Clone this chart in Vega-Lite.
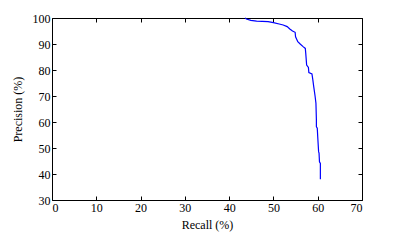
{
  "$schema": "https://vega.github.io/schema/vega-lite/v6.json",
  "width": 310,
  "height": 182,
  "autosize": {"type": "none"},
  "padding": {"left": 52, "top": 18, "right": 39, "bottom": 41},
  "background": "white",
  "config": {
    "view": {"stroke": "black", "strokeWidth": 1},
    "axis": {
      "labelFont": "Liberation Serif",
      "labelFontSize": 12,
      "labelColor": "black",
      "titleFont": "Liberation Serif",
      "titleFontSize": 12,
      "titleFontWeight": "normal",
      "titleColor": "black",
      "grid": false,
      "domain": false,
      "tickColor": "black",
      "tickSize": -4,
      "labelPadding": 6
    }
  },
  "data": {
    "values": [
      {"i": 1, "r": 43.6, "p": 100},
      {"i": 2, "r": 43.9, "p": 99.6},
      {"i": 3, "r": 44.9, "p": 99.1},
      {"i": 4, "r": 46.2, "p": 98.8},
      {"i": 5, "r": 48.8, "p": 98.6},
      {"i": 6, "r": 50.0, "p": 98.2},
      {"i": 7, "r": 51.3, "p": 97.7},
      {"i": 8, "r": 52.2, "p": 97.3},
      {"i": 9, "r": 53.1, "p": 96.7},
      {"i": 10, "r": 53.7, "p": 95.8},
      {"i": 11, "r": 54.3, "p": 95.0},
      {"i": 12, "r": 54.9, "p": 94.5},
      {"i": 13, "r": 55.0, "p": 92.8},
      {"i": 14, "r": 55.5, "p": 90.9},
      {"i": 15, "r": 56.1, "p": 89.9},
      {"i": 16, "r": 56.7, "p": 89.0},
      {"i": 17, "r": 57.2, "p": 88.3},
      {"i": 18, "r": 57.3, "p": 86.4},
      {"i": 19, "r": 57.5, "p": 81.9},
      {"i": 20, "r": 57.9, "p": 81.0},
      {"i": 21, "r": 58.0, "p": 79.0},
      {"i": 22, "r": 58.7, "p": 78.5},
      {"i": 23, "r": 58.9, "p": 76.2},
      {"i": 24, "r": 59.1, "p": 73.6},
      {"i": 25, "r": 59.4, "p": 70.0},
      {"i": 26, "r": 59.6, "p": 67.2},
      {"i": 27, "r": 59.7, "p": 61.0},
      {"i": 28, "r": 59.7, "p": 58.2},
      {"i": 29, "r": 59.9, "p": 57.6},
      {"i": 30, "r": 60.0, "p": 54.4},
      {"i": 31, "r": 60.2, "p": 48.6},
      {"i": 32, "r": 60.3, "p": 48.0},
      {"i": 33, "r": 60.4, "p": 44.7},
      {"i": 34, "r": 60.6, "p": 44.1},
      {"i": 35, "r": 60.6, "p": 38.0}
    ]
  },
  "layer": [
    {
      "mark": {"type": "line", "color": "#0000FF", "strokeWidth": 1.2},
      "encoding": {
        "x": {"field": "r", "type": "quantitative", "scale": {"domain": [0, 70], "nice": false},
              "axis": {"title": "Recall (%)", "values": [0,10,20,30,40,50,60,70], "titlePadding": 6}},
        "y": {"field": "p", "type": "quantitative", "scale": {"domain": [30, 100], "nice": false},
              "axis": {"title": "Precision (%)", "values": [30,40,50,60,70,80,90,100], "titlePadding": 8}},
        "order": {"field": "i", "type": "quantitative"}
      }
    },
    {
      "mark": {"type": "line", "opacity": 0},
      "encoding": {
        "x": {"field": "r", "type": "quantitative", "scale": {"domain": [0, 70], "nice": false},
              "axis": {"orient": "top", "title": null, "labels": false, "values": [0,10,20,30,40,50,60,70]}},
        "y": {"field": "p", "type": "quantitative", "scale": {"domain": [30, 100], "nice": false},
              "axis": {"orient": "right", "title": null, "labels": false, "values": [30,40,50,60,70,80,90,100]}},
        "order": {"field": "i", "type": "quantitative"}
      }
    }
  ],
  "resolve": {"axis": {"x": "independent", "y": "independent"}}
}
